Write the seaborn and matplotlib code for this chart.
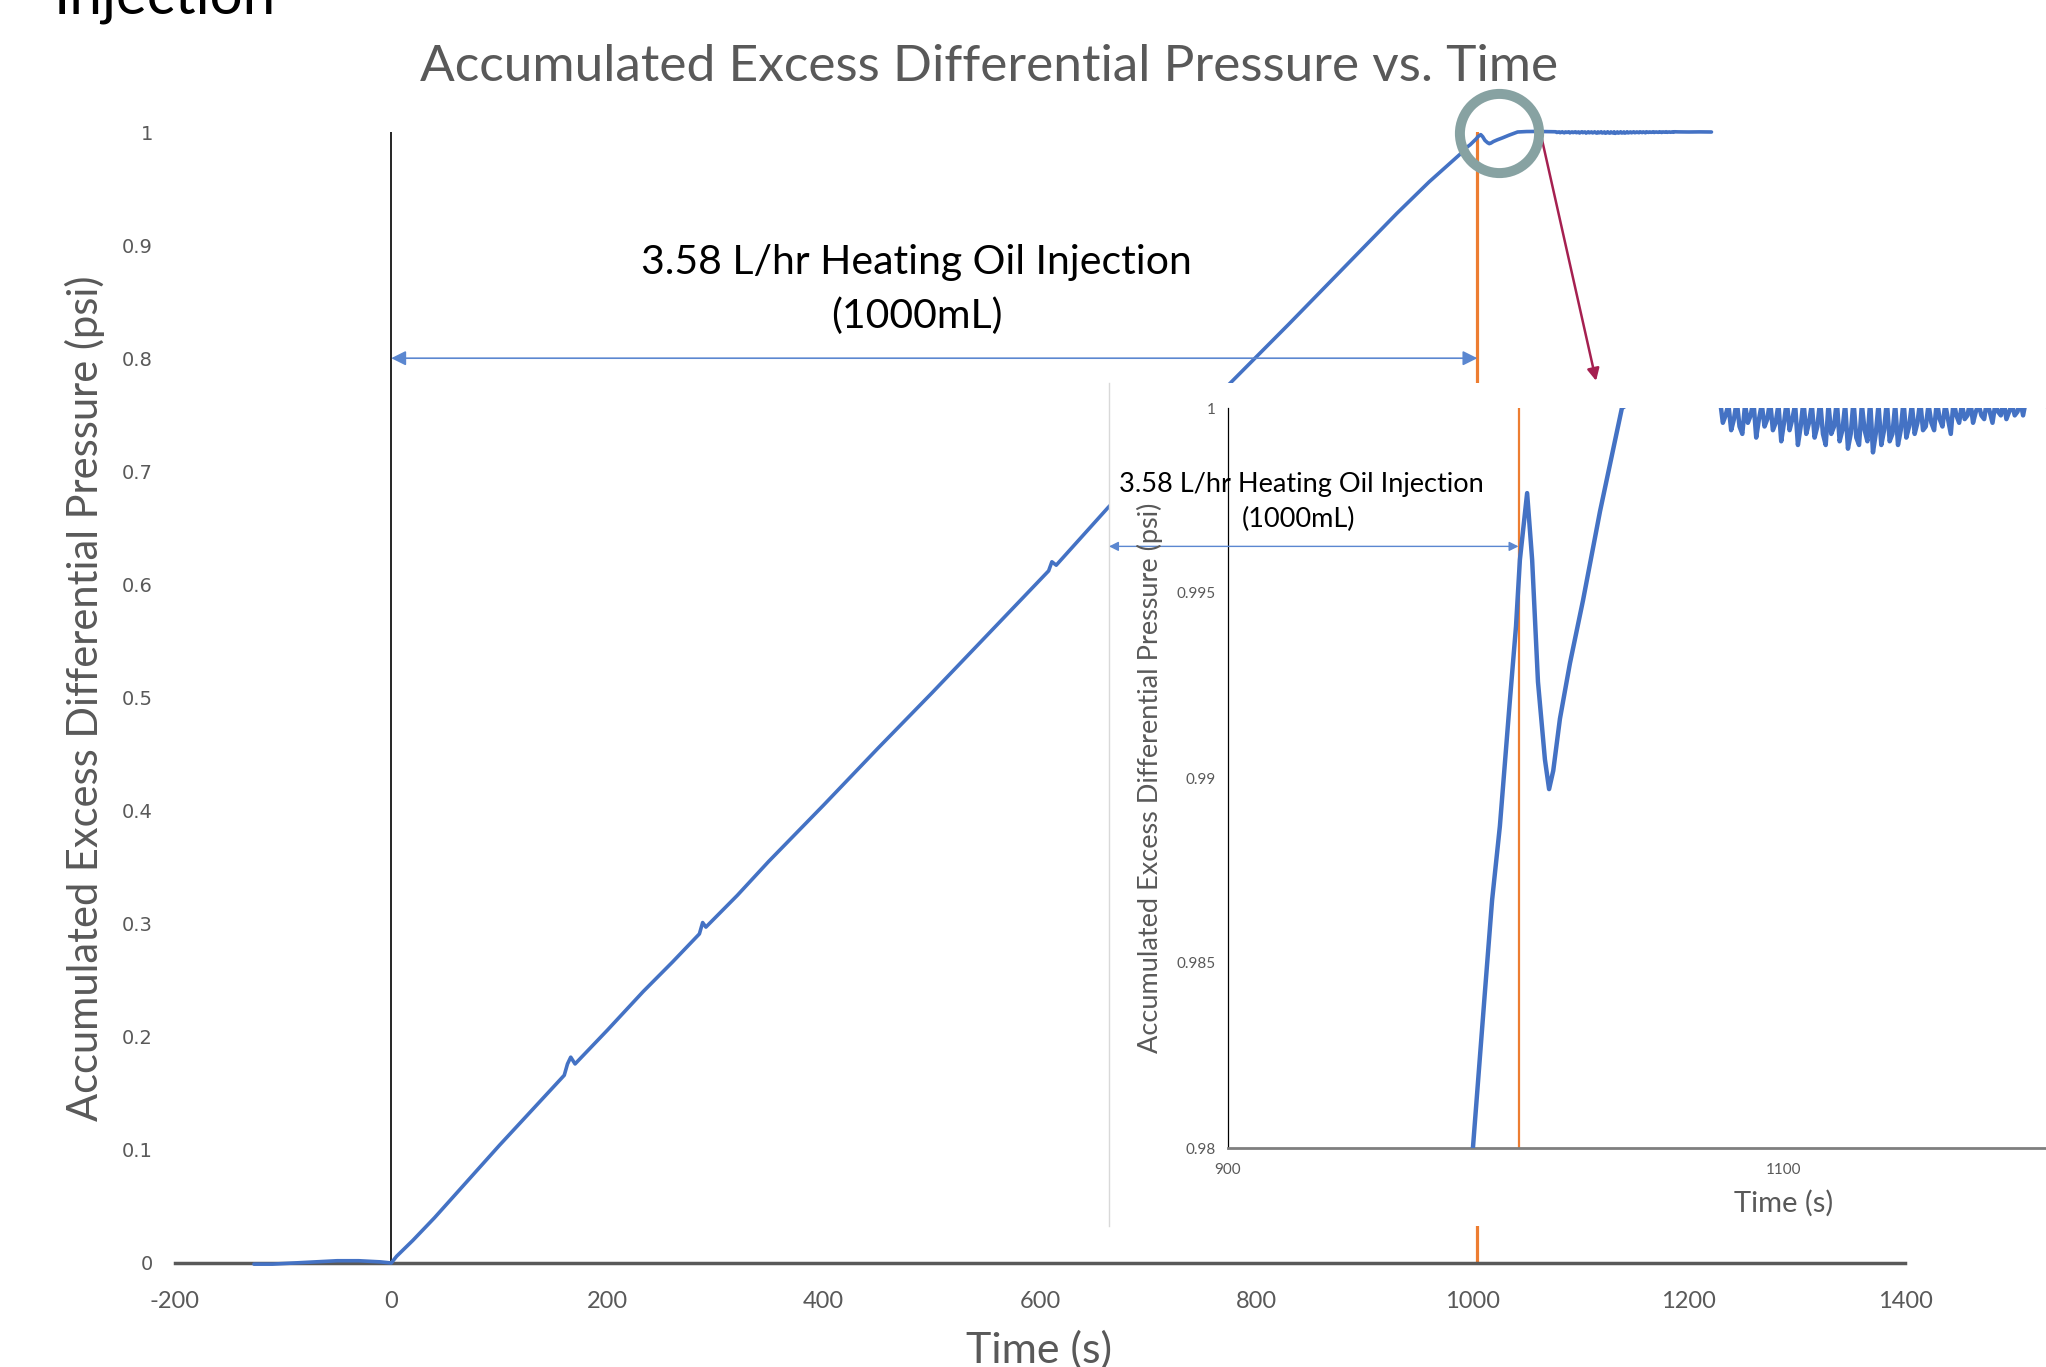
import matplotlib.pyplot as plt
import numpy as np
import pandas as pd
import seaborn as sns

# values: time (s) / accumulated excess dP (psi)
pre_t = [-127, -110, -90, -70, -50, -30, -10, 0]
pre_p = [-0.001, -0.001, 0.000, 0.001, 0.002, 0.002, 0.001, 0.000]

ramp_t = [5, 20, 40, 70, 100, 130, 160, 163, 166, 170, 200, 233, 260, 285, 288, 291,
          320, 349, 400, 450, 500, 550, 600, 608, 611, 615, 663, 720, 777, 830, 880, 930, 960]
ramp_p = [0.006, 0.020, 0.040, 0.072, 0.104, 0.135, 0.166, 0.176, 0.182, 0.176, 0.206, 0.240,
          0.266, 0.291, 0.301, 0.297, 0.325, 0.355, 0.405, 0.455, 0.504, 0.554, 0.604, 0.612,
          0.620, 0.617, 0.668, 0.724, 0.779, 0.830, 0.879, 0.928, 0.956]

# spike and dip right after the injection stops
event_t = [988.1, 992.4, 995.0, 997.8, 1001.4, 1003.6, 1005.0, 1007.6, 1009.4, 1011.5, 1014.0,
           1015.5, 1017.0, 1019.4, 1023.0, 1027.7, 1033.8, 1041.7, 1050, 1060, 1070, 1076]
event_p = [0.9800, 0.9842, 0.9867, 0.9887, 0.9921, 0.9941, 0.9959, 0.9977, 0.9959, 0.9926, 0.9905,
           0.9897, 0.9902, 0.9916, 0.9931, 0.9948, 0.9972, 1.0000, 1.0004, 1.0005, 1.0003, 1.0001]

# noisy plateau seen in the zoomed chart
noise_t = [1077, 1078, 1079, 1080, 1081, 1082, 1083, 1084, 1085, 1086,
           1087, 1088, 1089, 1090, 1091, 1092, 1093, 1094, 1095, 1096,
           1097, 1098, 1099, 1100, 1101, 1102, 1103, 1104, 1105, 1106,
           1107, 1108, 1109, 1110, 1111, 1112, 1113, 1114, 1115, 1116,
           1117, 1118, 1119, 1120, 1121, 1122, 1123, 1124, 1125, 1126,
           1127, 1128, 1129, 1130, 1131, 1132, 1133, 1134, 1135, 1136,
           1137, 1138, 1139, 1140, 1141, 1142, 1143, 1144, 1145, 1146,
           1147, 1148, 1149, 1150, 1151, 1152, 1153, 1154, 1155, 1156,
           1157, 1158, 1159, 1160, 1161, 1162, 1163, 1164, 1165, 1166,
           1167, 1168, 1169, 1170, 1171, 1172, 1173, 1174, 1175, 1176,
           1177, 1178, 1179, 1180, 1181, 1182, 1183, 1184, 1185, 1186, 1187]
noise_p = [1.0002, 0.9996, 0.9998, 1.0001, 0.9994, 0.9997, 1.0002, 0.9995, 0.9993, 1.0001,
           0.9996, 0.9998, 1.0002, 0.9992, 0.9997, 1.0001, 0.9995, 0.9997, 1.0002, 0.9994,
           0.9996, 1.0001, 0.9991, 0.9996, 1.0002, 0.9994, 0.9997, 1.0001, 0.9990, 0.9995,
           1.0002, 0.9993, 0.9996, 1.0001, 0.9992, 0.9995, 1.0002, 0.9993, 0.9990, 1.0001,
           0.9993, 0.9995, 1.0002, 0.9991, 0.9994, 1.0001, 0.9989, 0.9993, 1.0002, 0.9992,
           0.9990, 1.0001, 0.9994, 0.9991, 1.0002, 0.9988, 0.9993, 1.0001, 0.9990, 0.9994,
           1.0002, 0.9991, 0.9993, 1.0001, 0.9990, 0.9994, 1.0002, 0.9992, 0.9995, 1.0001,
           0.9993, 0.9996, 1.0002, 0.9994, 0.9995, 1.0001, 0.9996, 0.9994, 1.0002, 0.9997,
           0.9995, 1.0001, 0.9997, 0.9993, 1.0002, 0.9998, 0.9996, 1.0001, 0.9997, 0.9998,
           1.0002, 0.9996, 0.9999, 1.0001, 0.9998, 0.9997, 1.0002, 0.9999, 0.9996, 1.0001,
           0.9999, 0.9998, 1.0002, 0.9997, 0.9999, 1.0001, 0.9998, 0.9999, 1.0002, 0.9998, 1.0002]

tail_t = [1190, 1200, 1210, 1221]
tail_p = [1.0001, 1.0000, 1.0001, 1.0000]

df = pd.DataFrame({'t': pre_t + ramp_t + event_t + noise_t + tail_t,
                   'p': pre_p + ramp_p + event_p + noise_p + tail_p})

x_ticks = [-200, 0, 200, 400, 600, 800, 1000, 1200, 1400]
x_labels = ['-200', '0', '200', '400', '600', '800', '1000', '1200', '1400']
y_ticks = [0, 0.1, 0.2, 0.3, 0.4, 0.5, 0.6, 0.7, 0.8, 0.9, 1]
y_labels = ['0', '0.1', '0.2', '0.3', '0.4', '0.5', '0.6', '0.7', '0.8', '0.9', '1']
in_x_ticks = [900, 1100]
in_y_ticks = [0.98, 0.985, 0.99, 0.995, 1]
in_y_labels = ['0.98', '0.985', '0.99', '0.995', '1']

inj_start, inj_end = 0, 1004.5
title = 'Accumulated Excess Differential Pressure vs. Time'
ylab = 'Accumulated Excess Differential Pressure (psi)'
note1, note2 = '3.58 L/hr Heating Oil Injection', '(1000mL)'

blue = '#4472C4'
arrow_blue = '#5B87D0'
orange = '#ED7D31'
grey = '#595959'

sns.set_theme(style='white')
plt.rcParams['font.family'] = ['Lato', 'DejaVu Sans']

W, H = 2046, 1367
fig = plt.figure(figsize=(W / 100, H / 100), dpi=100)


def box(x0, y0, x1, y1):
    # pixel box (top-left origin) -> figure fraction rect
    return [x0 / W, 1 - y1 / H, (x1 - x0) / W, (y1 - y0) / H]


# ---- main chart
ax = fig.add_axes(box(175, 132, 1905, 1263))
ax.axvline(inj_start, color='black', lw=1.2, zorder=1)
ax.axvline(inj_end, color=orange, lw=2.3, zorder=1.5)
sns.lineplot(data=df, x='t', y='p', ax=ax, color=blue, lw=2.6, sort=False, estimator=None, zorder=3)
ax.lines[-1].set_clip_on(False)
ax.set_xlim(-200, 1400)
ax.set_ylim(0, 1)
ax.set_xticks(x_ticks, x_labels)
ax.set_yticks(y_ticks, y_labels)
ax.set_xlabel('')
ax.set_ylabel('')
ax.tick_params(axis='x', length=0, pad=20, labelsize=17, labelcolor=grey)
ax.tick_params(axis='y', length=0, pad=16, labelsize=14, labelcolor=grey)
for lab in ax.get_xticklabels():
    lab.set_family(['Liberation Sans Narrow', 'Lato'])
for lab in ax.get_yticklabels():
    lab.set_family('DejaVu Sans')
for s in ['top', 'right', 'left']:
    ax.spines[s].set_visible(False)
ax.spines['bottom'].set_color(grey)
ax.spines['bottom'].set_linewidth(2.5)

ax.annotate('', xy=(inj_start, 0.8), xytext=(inj_end, 0.8),
            arrowprops=dict(arrowstyle='<|-|>', color=arrow_blue, lw=1.2,
                            mutation_scale=22, shrinkA=0, shrinkB=0))
ax.text(486, 0.885, note1, ha='center', va='center', fontsize=29.5, color='black')
ax.text(486, 0.837, note2, ha='center', va='center', fontsize=29.5, color='black')

# zoom marker and pointer
ax.plot([1024.6], [0.999], marker='o', ms=57, mfc='none', mec='#87A2A2', mew=7.2,
        clip_on=False, zorder=5)
ax.annotate('', xy=(1114.3, 0.780), xytext=(1063.4, 0.997), annotation_clip=False,
            arrowprops=dict(arrowstyle='-|>', color='#A52050', lw=1.8,
                            mutation_scale=18, shrinkA=0, shrinkB=0))

# ---- white panel behind the zoomed chart
bg = fig.add_axes(box(1109, 383, 2046, 1226))
bg.set_facecolor('white')
bg.set_xticks([])
bg.set_yticks([])
for s in ['top', 'right', 'bottom']:
    bg.spines[s].set_visible(False)
bg.spines['left'].set_color('#D9D9D9')
bg.spines['left'].set_linewidth(1)

# ---- zoomed chart
axin = fig.add_axes(box(1228, 408, 2046, 1148))
axin.patch.set_alpha(0)
axin.axvline(inj_end, color=orange, lw=1.6, zorder=1)
sns.lineplot(data=df, x='t', y='p', ax=axin, color=blue, lw=3.2, sort=False, estimator=None, zorder=3)
axin.set_xlim(900, 900 + (2046 - 1228) * 200 / 556)
axin.set_ylim(0.98, 1)
axin.set_xticks(in_x_ticks)
axin.set_yticks(in_y_ticks, in_y_labels)
axin.set_xlabel('')
axin.set_ylabel('')
axin.tick_params(axis='x', length=0, pad=11, labelsize=11, labelcolor=grey)
axin.tick_params(axis='y', length=0, pad=9, labelsize=11, labelcolor=grey)
for s in ['top', 'right']:
    axin.spines[s].set_visible(False)
axin.spines['left'].set_color('black')
axin.spines['left'].set_linewidth(0.9)
axin.spines['bottom'].set_color('#7F7F7F')
axin.spines['bottom'].set_linewidth(2)

axin.annotate('', xy=(857.2, 0.99626), xytext=(inj_end, 0.99626), annotation_clip=False,
              arrowprops=dict(arrowstyle='<|-|>', color=arrow_blue, lw=1.0,
                              mutation_scale=14, shrinkA=0, shrinkB=0))
axin.text(926.3, 0.99793, note1, ha='center', va='center', fontsize=19.5, color='black')
axin.text(925.5, 0.99700, note2, ha='center', va='center', fontsize=19.5, color='black')

# ---- free text
fig.text(54 / W, 1 - 13 / H, 'Injection', fontsize=42, ha='left', va='baseline', color='black')
fig.text(989 / W, 1 - 67 / H, title, fontsize=37, ha='center', va='center', color=grey)
fig.text(85 / W, 1 - 698 / H, ylab, fontsize=30, rotation=90, ha='center', va='center', color=grey)
fig.text(1039 / W, 1 - 1350 / H, 'Time (s)', fontsize=31, ha='center', va='center', color=grey)
fig.text(1150 / W, 1 - 778 / H, ylab, fontsize=19.5, rotation=90, ha='center', va='center', color=grey)
fig.text(1784 / W, 1 - 1203 / H, 'Time (s)', fontsize=21, ha='center', va='center', color=grey)

fig.savefig('out.png', dpi=100)
